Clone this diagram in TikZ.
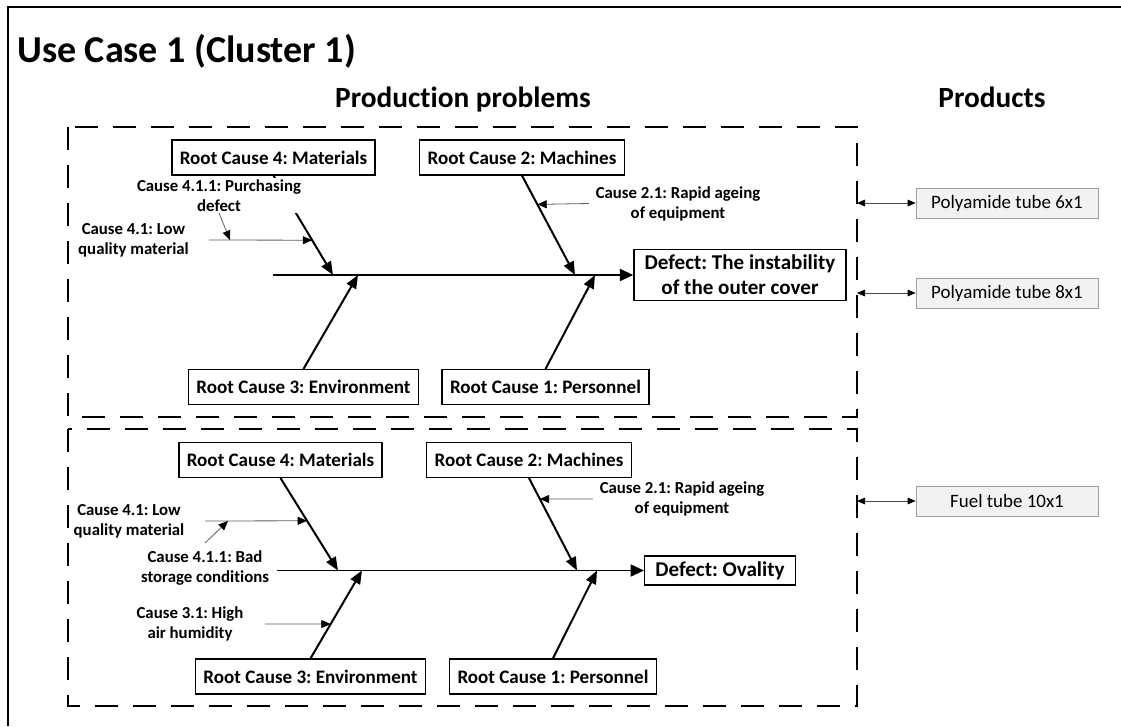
\documentclass[tikz,border=0pt]{standalone}
\usepackage{fontspec}
\setmainfont{Carlito}[Ligatures=NoCommon,RawFeature={-liga;-clig;-calt}]
\frenchspacing
\usetikzlibrary{arrows.meta,calc}
\begin{document}
\begin{tikzpicture}[x=0.75pt,y=-0.75pt,
  rcbox/.style={draw,line width=1.1pt,font=\fontsize{14.3}{17}\selectfont\bfseries,inner xsep=6pt,minimum height=26pt},
  defbox/.style={draw,line width=1.1pt,font=\fontsize{15.8}{19}\selectfont\bfseries,align=center,inner xsep=8pt,inner ysep=4pt},
  causetxt/.style={font=\fontsize{12.6}{15}\selectfont\bfseries,align=center,inner sep=1pt},
  prodbox/.style={draw=gray!75,fill=gray!10,line width=0.6pt,font=\fontsize{14.2}{17}\selectfont,minimum width=136.5pt,minimum height=22.5pt,inner sep=0pt},
  headtxt/.style={font=\fontsize{22}{26}\selectfont\bfseries,anchor=base,inner sep=0pt},
  branch/.style={line width=1.5pt,-{Triangle[length=10pt,width=8pt]}},
  spine/.style={line width=1.3pt,-{Triangle[length=10pt,width=9pt]}},
  subarrow/.style={line width=0.6pt,draw=gray!75!black,-{Triangle[length=7pt,width=6pt,color=black]}},
  prodarrow/.style={line width=0.6pt,draw=gray!60!black,{Triangle[length=6pt,width=5pt,color=black]}-{Triangle[length=6pt,width=5pt,color=black]}},
  dbox/.style={line width=2.2pt,dash pattern=on 17pt off 11.5pt}]
\useasboundingbox (0,0) rectangle (1121,726);
\fill[white] (0,0) rectangle (1121,726);
% outer frame
\draw[line width=2.2pt] (8,726) -- (8,7) -- (1121,7);
% headings
\node[font=\fontsize{28.5}{34}\selectfont\bfseries,anchor=base west,inner sep=0pt] (title) at (17,62) {Use Case 1 (Cluster 1)};
\node[headtxt] (pp) at (463,107) {Production problems};
\node[headtxt] (prod) at (992,107) {Products};
% dashed boxes
\draw[dbox] (68,127) rectangle (857,417);
\draw[dbox] (68,429) rectangle (857,706);

% ===== top fishbone =====
\node[rcbox] (rc4) at (273.5,157.5) {Root Cause 4: Materials};
\node[rcbox] (rc2) at (522,157.5) {Root Cause 2: Machines};
\node[rcbox] (rc3) at (303.5,387) {Root Cause 3: Environment};
\node[rcbox] (rc1) at (545.5,387) {Root Cause 1: Personnel};
\node[defbox] (d1) at (740,275) {Defect: The instability\\of the outer cover};
\coordinate (s1) at (273,275);
\coordinate (t4) at (333,275);
\coordinate (t3) at (358,275);
\coordinate (t2) at (575,275);
\coordinate (t1) at (595,275);
\draw[spine] (s1) -- (d1.west);
\draw[branch] (rc4.south) -- (t4);
\draw[branch] (rc2.south) -- (t2);
\draw[branch] (rc3.north) -- (t3);
\draw[branch] (rc1.north) -- (t1);
\node[causetxt] (c41) at (133.5,240) {Cause 4.1: Low\\quality material};
\node[causetxt,fill=white] (c411) at (219,195.5) {Cause 4.1.1: Purchasing\\defect};
\node[causetxt] (c21) at (678,203.5) {Cause 2.1: Rapid ageing\\of equipment};
\coordinate (a41s) at (209,240);
\coordinate (a411e) at (230,240);
\draw[subarrow] (a41s) -- ($(rc4.south)!0.65!(t4)$);
\draw[subarrow] (c411.south) -- (a411e);
\draw[subarrow] ([xshift=-4pt]c21.west) -- ($(rc2.south)!0.29!(t2)$);

% ===== bottom fishbone =====
\node[rcbox] (rc4b) at (280.5,460) {Root Cause 4: Materials};
\node[rcbox] (rc2b) at (529,460) {Root Cause 2: Machines};
\node[rcbox] (rc3b) at (310.5,676.5) {Root Cause 3: Environment};
\node[rcbox] (rc1b) at (553,676.5) {Root Cause 1: Personnel};
\node[defbox] (d2) at (720,570.5) {Defect: Ovality};
\coordinate (s2) at (277,570.5);
\coordinate (t4b) at (338,570.5);
\coordinate (t3b) at (362,570.5);
\coordinate (t2b) at (577,570.5);
\coordinate (t1b) at (597,570.5);
\draw[spine] (s2) -- (d2.west);
\draw[branch] (rc4b.south) -- (t4b);
\draw[branch] (rc2b.south) -- (t2b);
\draw[branch] (rc3b.north) -- (t3b);
\draw[branch] (rc1b.north) -- (t1b);
\node[causetxt] (c41b) at (129,521) {Cause 4.1: Low\\quality material};
\node[causetxt] (c411b) at (205,568) {Cause 4.1.1: Bad\\storage conditions};
\node[causetxt] (c31b) at (190,624) {Cause 3.1: High\\air humidity};
\node[causetxt] (c21b) at (682,499) {Cause 2.1: Rapid ageing\\of equipment};
\coordinate (a41bs) at (205,521);
\coordinate (a411bs) at (205,543);
\coordinate (a411be) at (228,521);
\coordinate (a31bs) at (265,624);
\draw[subarrow] (a41bs) -- ($(rc4b.south)!0.462!(t4b)$);
\draw[subarrow] (a411bs) -- (a411be);
\draw[subarrow] (a31bs) -- ($(rc3b.north)!0.391!(t3b)$);
\draw[subarrow] ([xshift=-4pt]c21b.west) -- ($(rc2b.south)!0.226!(t2b)$);

% ===== products =====
\node[prodbox] (p1) at (1007,203) {Polyamide tube 6x1};
\node[prodbox] (p2) at (1007,293) {Polyamide tube 8x1};
\node[prodbox] (p3) at (1007,501) {Fuel tube 10x1};
\coordinate (e1) at (857,203);
\coordinate (e2) at (857,293);
\coordinate (e3) at (857,501);
\draw[prodarrow] (e1) -- (p1.west);
\draw[prodarrow] (e2) -- (p2.west);
\draw[prodarrow] (e3) -- (p3.west);
\end{tikzpicture}
\end{document}
